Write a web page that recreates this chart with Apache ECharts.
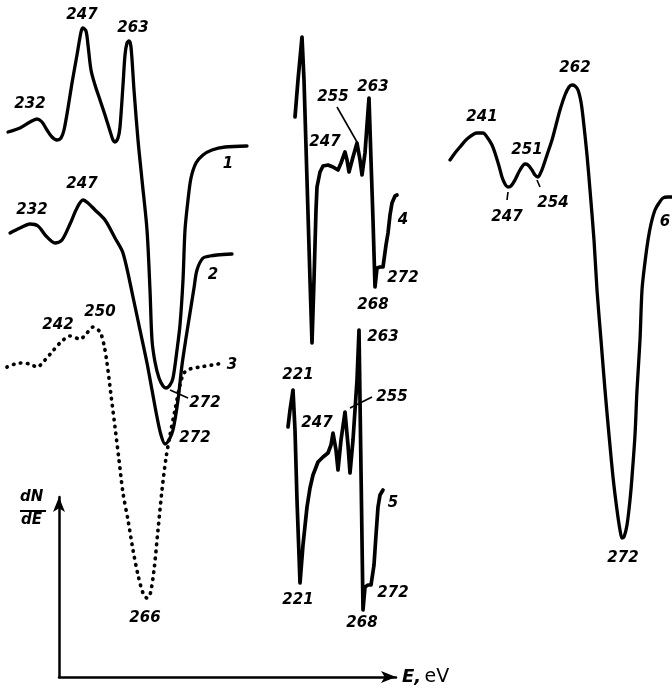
<!DOCTYPE html>
<html>
<head>
<meta charset="utf-8">
<script src="https://cdn.jsdelivr.net/npm/echarts@6/dist/echarts.min.js"></script>
<style>html,body{margin:0;padding:0;background:#fff}#c{width:672px;height:691px}</style>
</head>
<body>
<div id="c"></div>
<script>
// Traces in arbitrary panel units (x: energy position along trace, y: dN/dE level, downward axis)
const curve1X = [8,20,30,37,42,47,52,57,61,64,68,72,77,81,83,86,88,91,95,100,105,110,113,115,118,120,123,125,127,129,131,134,138,142,147,150,152,155,159,163,166,170,173,177,180,183,185,188,191,196,203,212,225,247];
const curve1Y = [132,128,122,119,122,130,137,140,138,130,108,83,55,32,28,31,45,70,85,100,115,131,140,142,138,127,85,55,43,41,47,90,140,180,230,290,340,362,378,386,388,385,378,350,325,280,230,200,178,163,155,150,147,146];

const curve2X = [10,20,30,38,46,55,62,70,77,83,88,95,105,115,123,133,140,147,152,157,161,165,169,173,178,182,186,190,194,197,203,210,217,232];
const curve2Y = [233,228,224,226,236,243,240,224,208,200,203,210,220,238,253,297,330,363,390,417,435,444,440,430,400,365,338,313,288,270,258,256,255,254];

const curve3X = [7,20,30,37,45,52,60,70,80,87,93,100,104,107,111,115,119,123,128,133,138,143,147,150,154,158,162,166,170,175,180,184,190,200,212,224];
const curve3Y = [367,363,364,367,360,352,343,336,339,333,327,332,345,363,395,427,460,493,520,550,575,593,598,595,570,530,490,458,435,410,385,373,369,367,365,363];

const curve4X = [295,298,302,304,307,310,312,314,316,317,320,323,328,333,338,341,345,347,349,353,357,360,362,365,367,369,371,373,375,377,380,383,386,388,390,392,395,397];
const curve4Y = [117,80,37,80,180,280,343,280,210,187,172,166,165,167,170,163,152,160,172,157,143,160,175,153,125,98,160,220,287,268,267,267,245,233,215,203,196,195];

const curve5X = [288,290,293,295,297,300,303,307,310,313,318,323,328,331,333,336,338,341,345,348,350,353,355,357,359,361,363,365,368,371,374,376,378,380,383];
const curve5Y = [427,410,390,430,500,583,545,507,488,475,462,457,453,445,433,450,470,440,412,445,473,440,410,380,330,470,610,587,585,585,565,535,507,495,490];

const curve6X = [450,455,460,467,477,483,487,492,495,499,502,505,508,511,515,520,525,528,532,535,538,541,543,547,552,556,560,565,569,572,575,578,581,583,587,590,594,597,601,605,609,613,617,620,622,624,627,630,632,635,637,640,642,645,648,651,655,659,663,668,672];
const curve6Y = [160,153,147,139,133,133,137,145,153,166,177,184,187,186,180,170,164,165,170,175,177,172,167,155,140,125,110,95,87,85,86,90,102,117,155,190,240,290,340,390,435,477,510,530,538,537,525,500,477,435,390,340,290,262,240,224,210,203,198,197,197];

// Peak annotations (energies in eV) and their anchor positions
const labelText = ['232','247','263','1','232','247','2','272','272','242','250','3','266',
  '247','255','263','4','272','268','221','247','255','263','5','272','221','268',
  '241','251','247','254','262','6','272'];
const labelX = [30,82,133,228,32,82,213,205,195,58,100,232,145,
  325,333,373,403,403,373,298,317,392,383,393,393,298,362,
  482,527,507,553,575,665,623];
const labelY = [104,15,28,164,210,184,275,403,438,325,312,365,618,
  142,97,87,220,278,305,375,423,397,337,503,593,600,623,
  117,150,217,203,68,222,558];

// Leader lines from labels to features [x1,y1,x2,y2]
const leaders = [[170,390,188,398],[337,107,357,142],[350,408,372,397],[508,192,507,200],[537,180,540,187]];

const zip = (xs, ys) => xs.map((x, i) => [x, ys[i]]);
const solid = {color:'#000', width:3.3, cap:'round', join:'round'};
const heavy = {color:'#000', width:3.7, cap:'round', join:'round'};
function curve(xs, ys, smooth, style) {
  return {type:'line', data: zip(xs, ys), symbol:'none', smooth: smooth, silent:true,
    xAxisIndex:0, yAxisIndex:0, lineStyle: style || solid, z:3};
}
const series = [
  curve(curve1X, curve1Y, 0.3),
  curve(curve2X, curve2Y, 0.3),
  curve(curve3X, curve3Y, 0.3, {color:'#000', width:3.7, type:[0.5,6.5], cap:'round'}),
  curve(curve4X, curve4Y, false, heavy),
  curve(curve5X, curve5Y, false, heavy),
  curve(curve6X, curve6Y, 0.3)
];
leaders.forEach(l => series.push({type:'line', data:[[l[0],l[1]],[l[2],l[3]]], symbol:'none', silent:true,
  xAxisIndex:0, yAxisIndex:0, lineStyle:{color:'#000', width:1.6}}));
series.push({type:'custom', xAxisIndex:0, yAxisIndex:0, silent:true, z:5,
  data: labelText.map((t, i) => [labelX[i], labelY[i], i]),
  renderItem: function (params, api) {
    const p = api.coord([api.value(0), api.value(1)]);
    return {type:'text', x:p[0], y:p[1], style:{text: labelText[api.value(2)],
      font:'italic bold 15px "DejaVu Sans"', fill:'#000', align:'center', verticalAlign:'middle'}};
  }});

const chart = echarts.init(document.getElementById('c'));
chart.setOption({
  animation:false,
  backgroundColor:'#fff',
  grid:[
    {left:0, top:0, right:0, bottom:0},
    {left:59, top:497, width:337, height:180}
  ],
  xAxis:[
    {type:'value', min:0, max:672, show:false, gridIndex:0},
    {type:'value', min:0, max:1, gridIndex:1,
      axisLine:{show:true, onZero:false, symbol:['none','arrow'], symbolSize:[9,15], lineStyle:{color:'#000', width:2.5}},
      axisTick:{show:false}, axisLabel:{show:false}, splitLine:{show:false},
      name:'{b|E,} {n|eV}', nameLocation:'end', nameGap:6,
      nameTextStyle:{rich:{b:{fontFamily:'DejaVu Sans', fontStyle:'italic', fontWeight:'bold', fontSize:18, color:'#000'},
        n:{fontFamily:'DejaVu Sans', fontSize:19, color:'#000'}}}}
  ],
  yAxis:[
    {type:'value', min:0, max:691, inverse:true, show:false, gridIndex:0},
    {type:'value', min:0, max:1, gridIndex:1,
      axisLine:{show:true, onZero:false, symbol:['none','arrow'], symbolSize:[9,15], lineStyle:{color:'#000', width:2.5}},
      axisTick:{show:false}, axisLabel:{show:false}, splitLine:{show:false}}
  ],
  graphic:[
    {type:'text', left:20, top:490, style:{text:'dN', font:'italic bold 15px "DejaVu Sans"', fill:'#000'}},
    {type:'rect', left:20, top:510, shape:{width:26, height:2}, style:{fill:'#000'}},
    {type:'text', left:21, top:513, style:{text:'dE', font:'italic bold 15px "DejaVu Sans"', fill:'#000'}}
  ],
  series: series
});
</script>
</body>
</html>
